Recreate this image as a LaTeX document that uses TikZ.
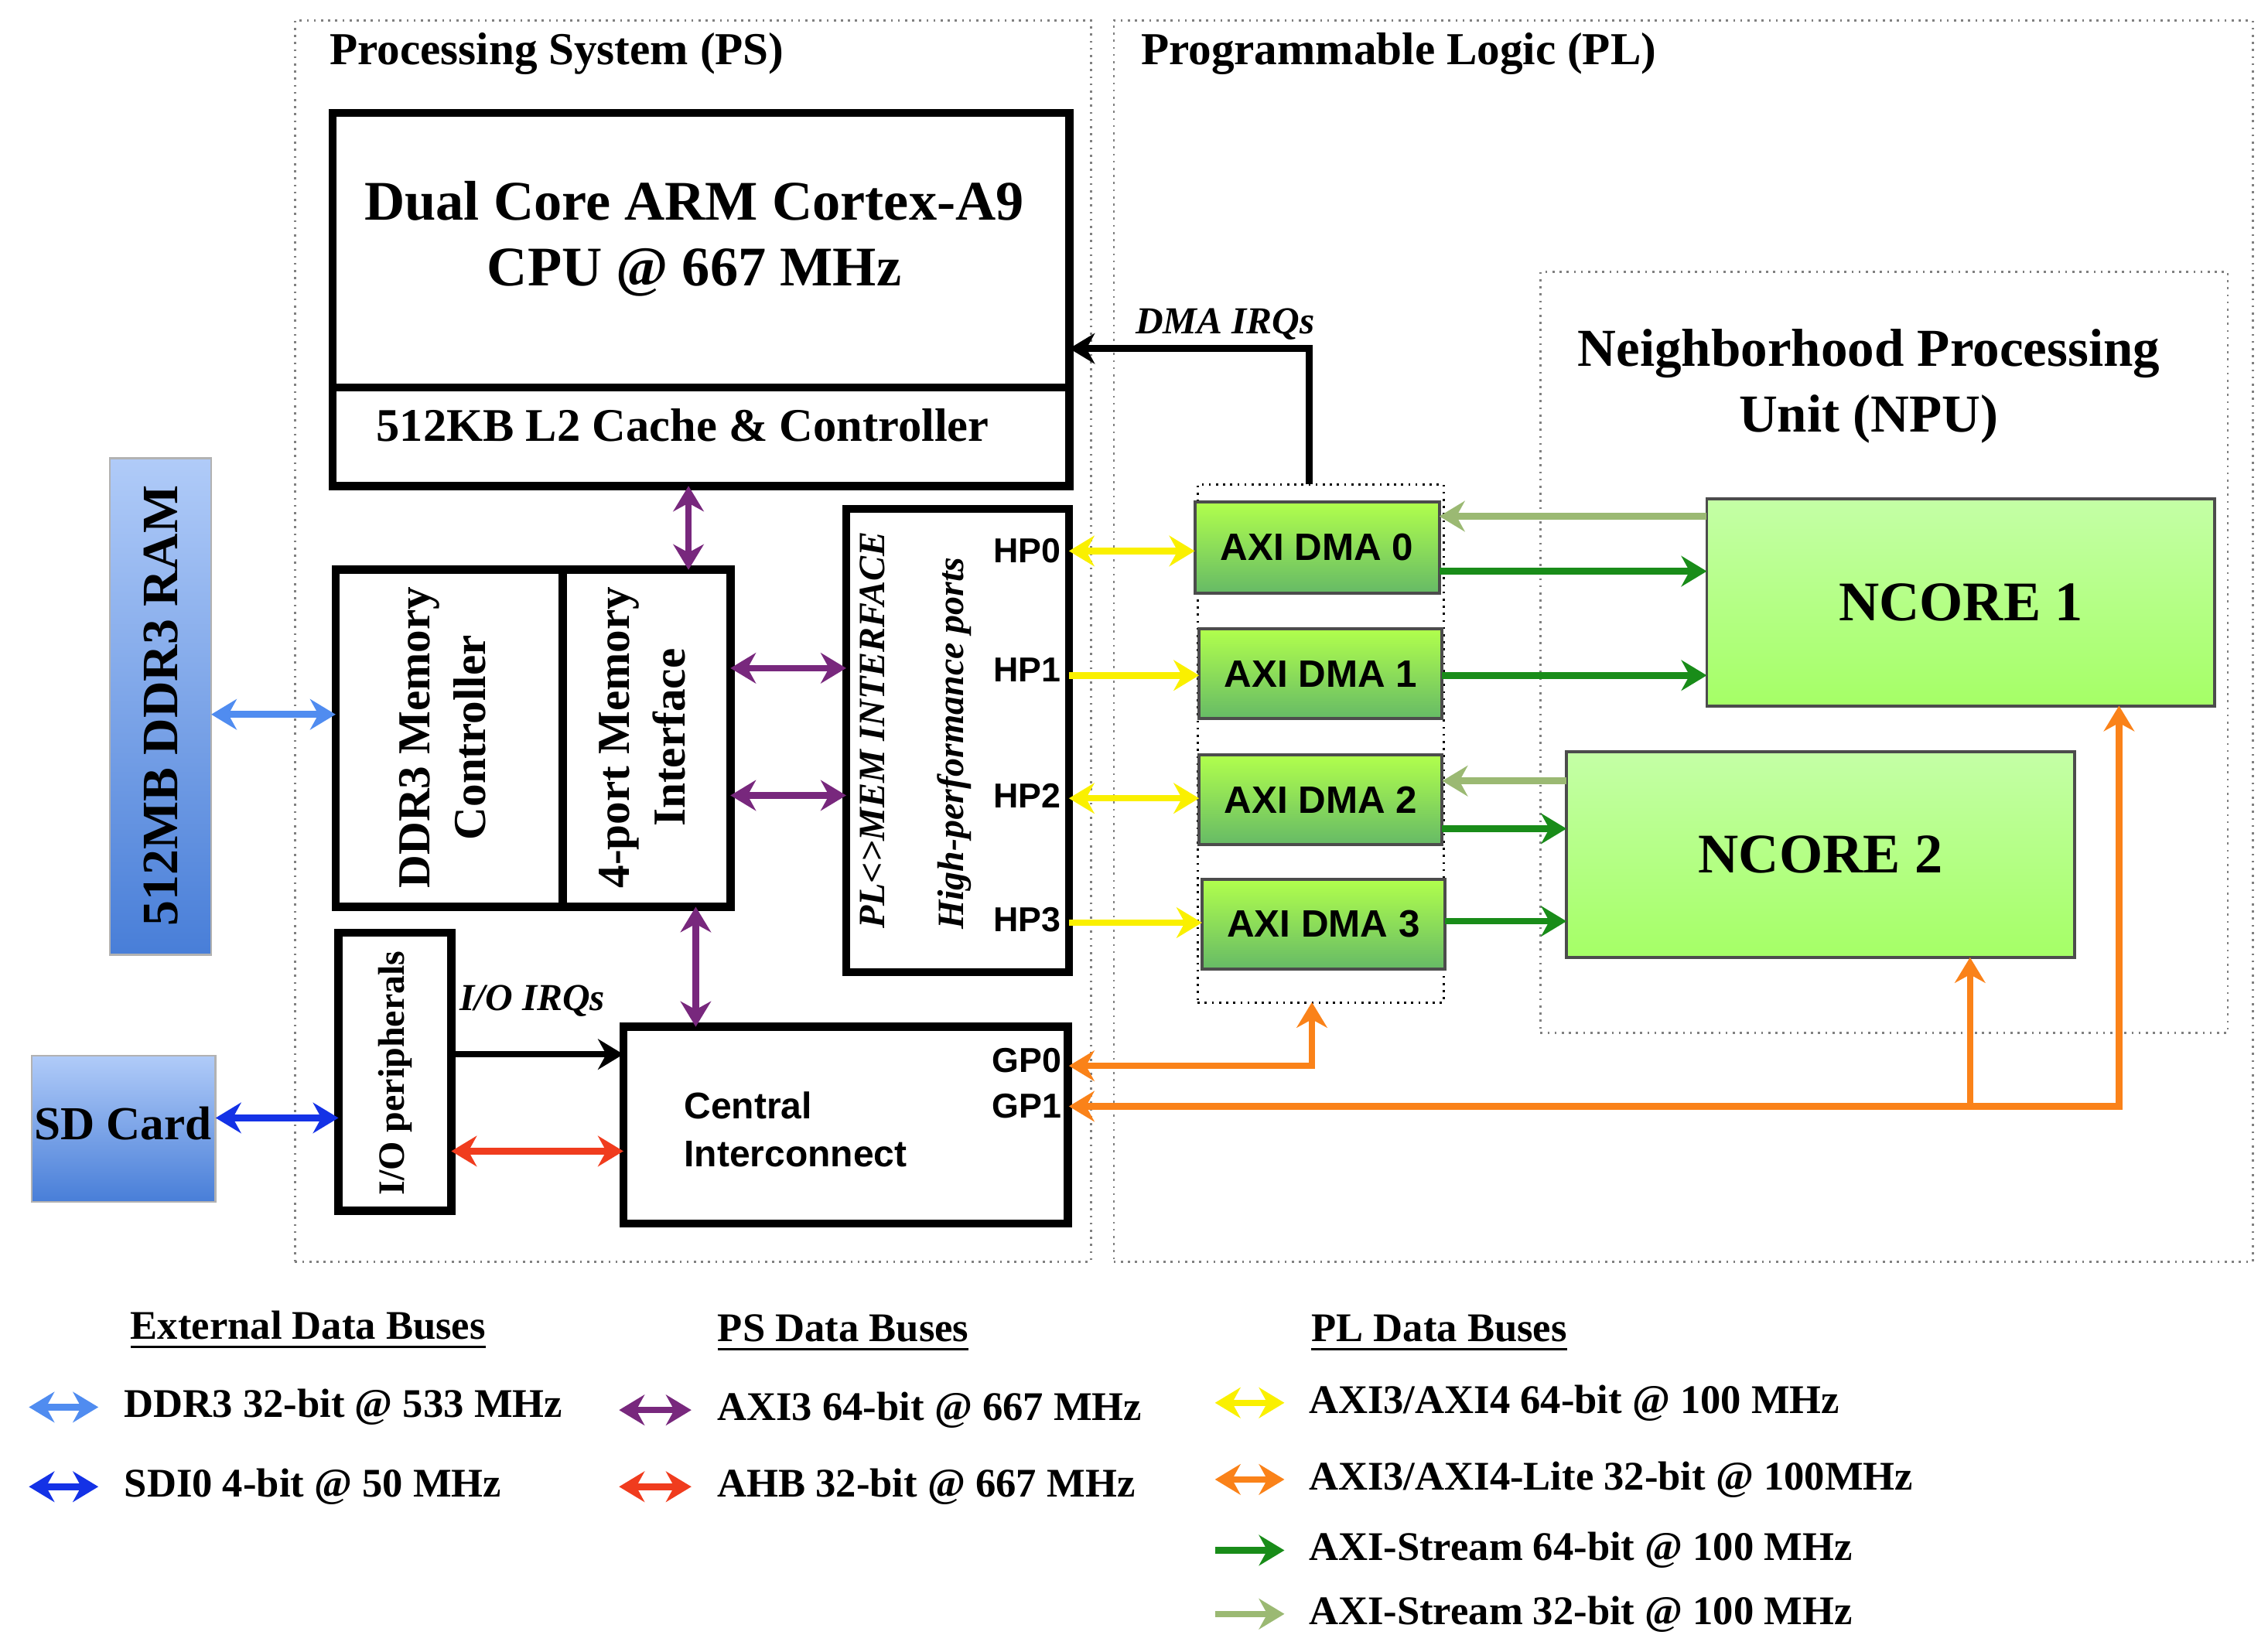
\documentclass[tikz,border=0pt]{standalone}
\usepackage{fontspec}
\setmainfont{Liberation Serif}
\newfontfamily\sansbf{Liberation Sans}
\usepackage{tikz}
\usetikzlibrary{arrows.meta,calc}
\definecolor{ddrblue}{RGB}{80,140,240}
\definecolor{sdblue}{RGB}{20,50,230}
\definecolor{psviolet}{RGB}{120,40,125}
\definecolor{ahbred}{RGB}{240,60,30}
\definecolor{axiyellow}{RGB}{250,240,0}
\definecolor{liteorange}{RGB}{250,130,25}
\definecolor{strgreen}{RGB}{25,140,25}
\definecolor{strlight}{RGB}{155,185,115}
\tikzset{every node/.append style={inner sep=0, outer sep=0}}
\tikzset{region/.style={draw, densely dotted, gray, anchor=north west}}
\tikzset{block/.style={draw, line width=1.6pt, anchor=north west}}
\tikzset{dma/.style={draw=black!70, line width=0.6pt, anchor=north west, top color=green!25!lime!70, bottom color=green!55!black!60, font=\sansbf\bfseries\fontsize{7.5}{9}\selectfont}}
\tikzset{ncore/.style={draw=black!70, line width=0.6pt, anchor=north west, top color=lime!45!green!35, bottom color=lime!55!green!60, font=\bfseries\fontsize{11}{13}\selectfont}}
\tikzset{ext/.style={draw=black!30, anchor=north west, top color=ddrblue!45, bottom color=ddrblue!90!black, font=\bfseries\fontsize{10}{12}\selectfont}}
\tikzset{bus/.style={line width=1.3pt, -{Stealth[length=5pt,width=6pt]}}}
\tikzset{bibus/.style={line width=1.3pt, {Stealth[length=5pt,width=6pt]}-{Stealth[length=5pt,width=6pt]}}}
\tikzset{hdr/.style={font=\bfseries\fontsize{8}{10}\selectfont}}
\tikzset{leg/.style={anchor=west, font=\bfseries\fontsize{8}{10}\selectfont}}
\tikzset{port/.style={font=\sansbf\bfseries\fontsize{6.8}{8}\selectfont}}

\begin{document}
\begin{tikzpicture}[x=0.01cm, y=-0.01cm]
  \useasboundingbox (0,0) rectangle (1568,1142);
  % regions
  \node[region, minimum width=5.50cm, minimum height=8.58cm] (PS) at (204,14) {};
  \node[region, minimum width=7.87cm, minimum height=8.58cm] (PL) at (770,14) {};
  \node[font=\bfseries\fontsize{9}{11}\selectfont] at (385,37) {Processing System (PS)};
  \node[font=\bfseries\fontsize{9}{11}\selectfont] at (967,37) {Programmable Logic (PL)};
  \node[region, minimum width=4.75cm, minimum height=5.26cm] (NPU) at (1065,188) {};
  \node[align=center, font=\bfseries\fontsize{10.5}{13}\selectfont] at (1292,267) {Neighborhood Processing\\Unit (NPU)};
  \node[region, black, minimum width=1.70cm, minimum height=3.58cm] (DMAS) at (828,335) {};

  % PS blocks
  \node[block, minimum width=5.09cm, minimum height=2.58cm] (CPU) at (230,78) {};
  \draw[line width=1.6pt] (230,268) -- (739,268);
  \node[align=center, font=\bfseries\fontsize{11}{13}\selectfont] at (480,165) {Dual Core ARM Cortex-A9\\CPU @ 667 MHz};
  \node[font=\bfseries\fontsize{9.2}{11}\selectfont] at (472,294) {512KB L2 Cache \& Controller};
  \node[block, minimum width=1.57cm, minimum height=2.33cm] (DDRC) at (232,394) {};
  \node[rotate=90, align=center, font=\bfseries\fontsize{9}{11}\selectfont] at (306,510) {DDR3 Memory\\Controller};
  \node[block, minimum width=1.16cm, minimum height=2.33cm] (MEMIF) at (389,394) {};
  \node[rotate=90, align=center, font=\bfseries\fontsize{9}{11}\selectfont] at (444,510) {4-port Memory\\Interface};
  \node[block, minimum width=1.54cm, minimum height=3.20cm] (HPIF) at (585,352) {};
  \node[rotate=90, font=\bfseries\itshape\fontsize{7.3}{9}\selectfont] at (603,505) {PL<>MEM INTERFACE};
  \node[rotate=90, font=\bfseries\itshape\fontsize{7.3}{9}\selectfont] at (660,514) {High-performance ports};
  \node[port] (HP0) at (710,381) {HP0};
  \node[port] (HP1) at (710,463) {HP1};
  \node[port] (HP2) at (710,550) {HP2};
  \node[port] (HP3) at (710,636) {HP3};
  \node[block, minimum width=0.78cm, minimum height=1.92cm] (IOP) at (234,645) {};
  \node[rotate=90, font=\bfseries\fontsize{7.3}{9}\selectfont] at (273,742) {I/O peripherals};
  \node[block, minimum width=3.07cm, minimum height=1.36cm] (CI) at (431,710) {};
  \node[align=left, font=\sansbf\bfseries\fontsize{7.3}{9.5}\selectfont] at (550,781) {Central\\Interconnect};
  \node[port] (GP0) at (710,733) {GP0};
  \node[port] (GP1) at (710,765) {GP1};

  % external
  \node[ext, minimum width=0.70cm, minimum height=3.43cm] (RAM) at (76,317) {};
  \node[rotate=90, font=\bfseries\fontsize{10}{12}\selectfont] at (111,488) {512MB DDR3 RAM};
  \node[ext, minimum width=1.27cm, minimum height=1.01cm] (SD) at (22,730) {};
  \node[font=\bfseries\fontsize{9.3}{11}\selectfont] at (85,777) {SD Card};

  % PL blocks
  \node[dma, minimum width=1.69cm, minimum height=0.63cm] (DMA0) at (826,347) {AXI DMA 0};
  \node[dma, minimum width=1.68cm, minimum height=0.62cm] (DMA1) at (829,435) {AXI DMA 1};
  \node[dma, minimum width=1.68cm, minimum height=0.62cm] (DMA2) at (829,522) {AXI DMA 2};
  \node[dma, minimum width=1.68cm, minimum height=0.62cm] (DMA3) at (831,608) {AXI DMA 3};
  \node[ncore, minimum width=3.51cm, minimum height=1.43cm] (NC1) at (1180,345) {NCORE 1};
  \node[ncore, minimum width=3.51cm, minimum height=1.42cm] (NC2) at (1083,520) {NCORE 2};

  % connections
  \draw[bus, black] (905,335) -- (905,241) -- (CPU.east |- 0,241);
  \node[font=\bfseries\itshape\fontsize{7.5}{9}\selectfont] at (847,224) {DMA IRQs};
  \draw[bibus, psviolet] (476,336) -- (476,394);
  \draw[bibus, psviolet] (505,462) -- (585,462);
  \draw[bibus, psviolet] (505,550) -- (585,550);
  \draw[bibus, psviolet] (481,627) -- (481,710);
  \draw[bibus, ddrblue] (RAM.east |- 0,494) -- (DDRC.west |- 0,494);
  \draw[bibus, sdblue] (SD.east |- 0,773) -- (IOP.west |- 0,773);
  \draw[bus, black] (312,729) -- (431,729);
  \node[font=\bfseries\itshape\fontsize{7.5}{9}\selectfont] at (368,692) {I/O IRQs};
  \draw[bibus, ahbred] (312,796) -- (431,796);
  \draw[bibus, axiyellow] (739,381) -- (DMA0.west |- 0,381);
  \draw[bus, axiyellow] (739,467) -- (DMA1.west |- 0,467);
  \draw[bibus, axiyellow] (739,552) -- (DMA2.west |- 0,552);
  \draw[bus, axiyellow] (739,638) -- (DMA3.west |- 0,638);
  \draw[bus, strgreen] (DMA0.east |- 0,395) -- (NC1.west |- 0,395);
  \draw[bus, strgreen] (DMA1.east |- 0,467) -- (NC1.west |- 0,467);
  \draw[bus, strgreen] (DMA2.east |- 0,573) -- (NC2.west |- 0,573);
  \draw[bus, strgreen] (DMA3.east |- 0,637) -- (NC2.west |- 0,637);
  \draw[bus, strlight] (NC1.west |- 0,357) -- (DMA0.east |- 0,357);
  \draw[bus, strlight] (NC2.west |- 0,540) -- (DMA2.east |- 0,540);
  \draw[bibus, liteorange] (739,737) -- (907,737) -- (907,693);
  \draw[bibus, liteorange] (739,765) -- (1465,765) -- (1465,488);
  \draw[bus, liteorange] (1362,765) -- (1362,662);

  % legend
  \node[hdr] (LH1) at (213,920) {\underline{External Data Buses}};
  \node[hdr] (LH2) at (583,922) {\underline{PS Data Buses}};
  \node[hdr] (LH3) at (995,922) {\underline{PL Data Buses}};
  \foreach \y/\c/\s/\t in {973/ddrblue/bibus/{DDR3 32-bit @ 533 MHz}, 1028/sdblue/bibus/{SDI0 4-bit @ 50 MHz}} {
    \coordinate (a) at (20,\y); \coordinate (b) at (68,\y);
    \draw[\s, \c] (a) -- (b);
    \node[leg] at (86,\y) {\t};
  }
  \foreach \y/\c/\s/\t in {975/psviolet/bibus/{AXI3 64-bit @ 667 MHz}, 1028/ahbred/bibus/{AHB 32-bit @ 667 MHz}} {
    \coordinate (a) at (428,\y); \coordinate (b) at (478,\y);
    \draw[\s, \c] (a) -- (b);
    \node[leg] at (496,\y) {\t};
  }
  \foreach \y/\c/\s/\t in {970/axiyellow/bibus/{AXI3/AXI4 64-bit @ 100 MHz}, 1023/liteorange/bibus/{AXI3/AXI4-Lite 32-bit @ 100MHz}, 1072/strgreen/bus/{AXI-Stream 64-bit @ 100 MHz}, 1116/strlight/bus/{AXI-Stream 32-bit @ 100 MHz}} {
    \coordinate (a) at (840,\y); \coordinate (b) at (888,\y);
    \draw[\s, \c] (a) -- (b);
    \node[leg] at (905,\y) {\t};
  }
\end{tikzpicture}
\end{document}
